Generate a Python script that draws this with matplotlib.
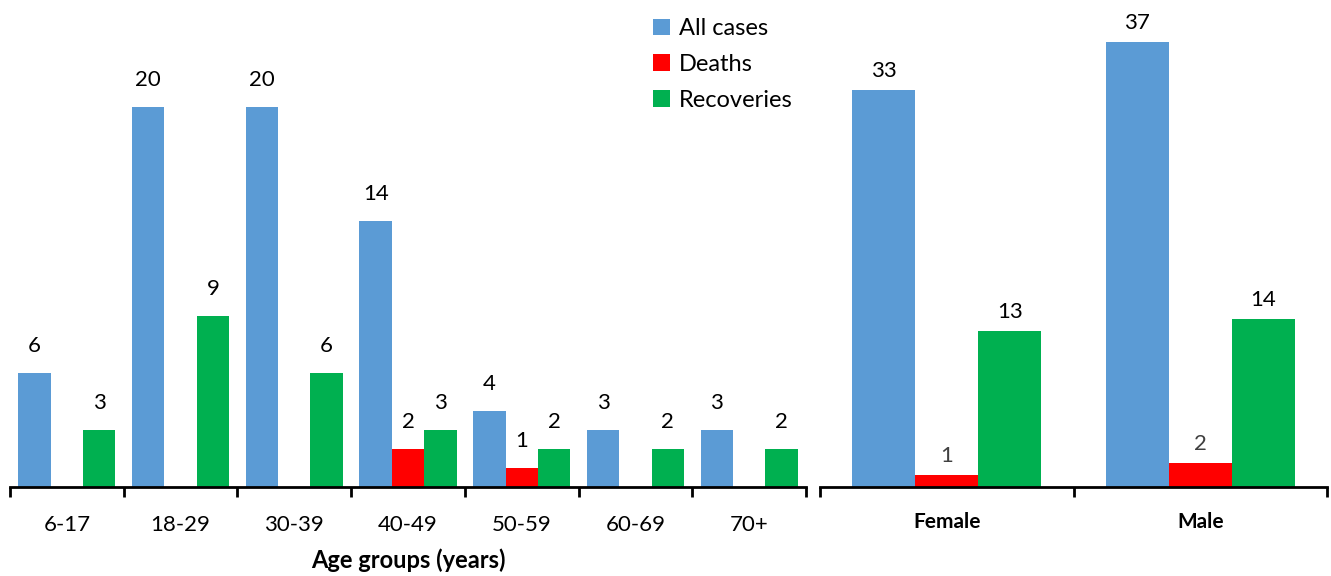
import matplotlib
matplotlib.use("Agg")
import matplotlib.pyplot as plt
import numpy as np

plt.rcParams['font.family'] = ['Lato', 'DejaVu Sans']

age_groups = ["6-17", "18-29", "30-39", "40-49", "50-59", "60-69", "70+"]
age_all = [6, 20, 20, 14, 4, 3, 3]
age_deaths = [0, 0, 0, 2, 1, 0, 0]
age_recov = [3, 9, 6, 3, 2, 2, 2]

sexes = ["Female", "Male"]
sex_all = [33, 37]
sex_deaths = [1, 2]
sex_recov = [13, 14]

series_names = ["All cases", "Deaths", "Recoveries"]
colors = ["#5B9BD5", "#FF0000", "#00B050"]

W, H = 1331, 576
fig = plt.figure(figsize=(W / 100, H / 100), dpi=100)

base = (576 - 487) / H
axL = fig.add_axes([10 / W, base, 796 / W, 475 / H])
axR = fig.add_axes([820 / W, base, 507 / W, 475 / H])


def draw(ax, cats, data, bw, ymax, off_px, label_colors, bold, fs_tick, pad):
    x = np.arange(len(cats))
    handles = []
    for i, (vals, c) in enumerate(zip(data, colors)):
        pos = x + (i - 1) * bw
        b = ax.bar(pos, vals, width=bw, color=c, label=series_names[i])
        handles.append(b)
        for p, v in zip(pos, vals):
            if v > 0:
                ax.annotate(str(v), (p, v), xytext=(0, off_px * 0.72),
                            textcoords="offset points", ha="center", va="center",
                            fontsize=16, color=label_colors[i])
    ax.set_xlim(-0.5, len(cats) - 0.5)
    ax.set_ylim(0, ymax)
    for s in ["top", "left", "right"]:
        ax.spines[s].set_visible(False)
    ax.spines["bottom"].set_linewidth(2)
    ax.set_yticks([])
    ax.set_xticks(np.arange(len(cats) + 1) - 0.5)
    ax.set_xticklabels([])
    ax.tick_params(axis="x", which="major", length=7, width=2, direction="out")
    ax.set_xticks(x, minor=True)
    ax.set_xticklabels(cats, minor=True, fontsize=fs_tick,
                       fontweight="bold" if bold else "normal")
    ax.tick_params(axis="x", which="minor", length=0, pad=pad)
    return handles


handles = draw(axL, age_groups, [age_all, age_deaths, age_recov], 0.285, 25,
               27, ["black", "black", "black"], False, 16, 20)
draw(axR, sexes, [sex_all, sex_deaths, sex_recov], 0.248, 39.5,
     19, ["black", "#404040", "black"], True, 15, 18)

axL.set_xlabel("Age groups (years)", fontsize=17, fontweight="bold", labelpad=10)

fig.legend(handles=handles, labels=series_names, loc="upper left",
           bbox_to_anchor=(632 / W, 1 + 3 / H), frameon=False, fontsize=17,
           handlelength=0.7, handleheight=0.7, handletextpad=0.4,
           labelspacing=0.62)

fig.savefig("out.png", dpi=100)
